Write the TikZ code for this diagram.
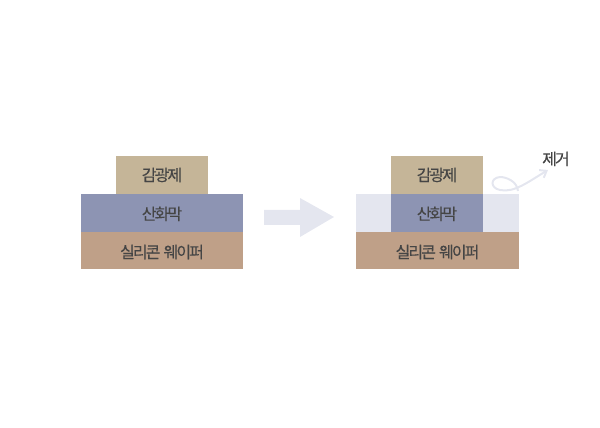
\documentclass[tikz,border=0pt]{standalone}
\usepackage{fontspec}
\usepackage{tikz}
\usetikzlibrary{arrows.meta,positioning}
\setmainfont[LetterSpace=-12,FakeBold=0.15]{Noto Sans CJK KR}
\definecolor{ResistFill}{HTML}{C5B598}
\definecolor{OxideFill}{HTML}{8D94B3}
\definecolor{WaferFill}{HTML}{BFA088}
\definecolor{PaleFill}{HTML}{E4E6EF}
\definecolor{LabelInk}{HTML}{454545}
\begin{document}
\begin{tikzpicture}[x=1pt,y=1pt]
		\tikzstyle{Layer}	= [inner sep=0pt, outer sep=0pt, text=LabelInk, font=\fontsize{16}{16}\selectfont, minimum height=37.6pt, text height=11pt, text depth=0pt]
		\tikzstyle{Narrow}	= [Layer, minimum width=92pt]
		\tikzstyle{Wide}	= [Layer, minimum width=162.5pt]
		\tikzstyle{Resist}	= [fill=ResistFill]
		\tikzstyle{Oxide}	= [fill=OxideFill]
		\tikzstyle{Wafer}	= [fill=WaferFill]
		\tikzstyle{Removed}	= [fill=PaleFill]
		\tikzstyle{Swirl}	= [draw=PaleFill, line width=2pt, -{Straight Barb[length=6pt,width=9pt]}]

		\useasboundingbox (0,0) rectangle (600,428);

		% before
		\node (r1) at (162,253) [Narrow][Resist] {\raisebox{-0.5pt}{감광제}};
		\node (o1) at (162,215.2) [Wide][Oxide] {\raisebox{-1.5pt}{산화막}};
		\node (w1) at (162,177.5) [Wide][Wafer] {\raisebox{-2pt}{실리콘\hspace{1.5pt} 웨이퍼}};

		\fill [PaleFill] (264,218) -- (300,218) -- (300,230) -- (334,211) -- (300,191) -- (300,203) -- (264,203) -- cycle;

		% after
		\node (p2) at (437.5,215.2) [Wide][Removed] {};
		\node (r2) at (437,253) [Narrow][Resist] {\raisebox{-0.5pt}{감광제}};
		\node (o2) at (437,215.2) [Narrow][Oxide] {\raisebox{-1.5pt}{산화막}};
		\node (w2) at (437.5,177.5) [Wide][Wafer] {\raisebox{-2pt}{실리콘\hspace{1.5pt} 웨이퍼}};

		\node (gone) at (556,269) [text=LabelInk, inner sep=0pt, font=\fontsize{16}{16}\selectfont] {제거};
		\coordinate (s0) at (518,237);
		\coordinate (s1) at (548,258);
		\draw [Swirl] (s0) .. controls (517,247) and (506,251) .. (500,251)
			.. controls (490,250) and (490,240) .. (500,238)
			.. controls (514,235) and (528,246) .. (s1);
\end{tikzpicture}
\end{document}
